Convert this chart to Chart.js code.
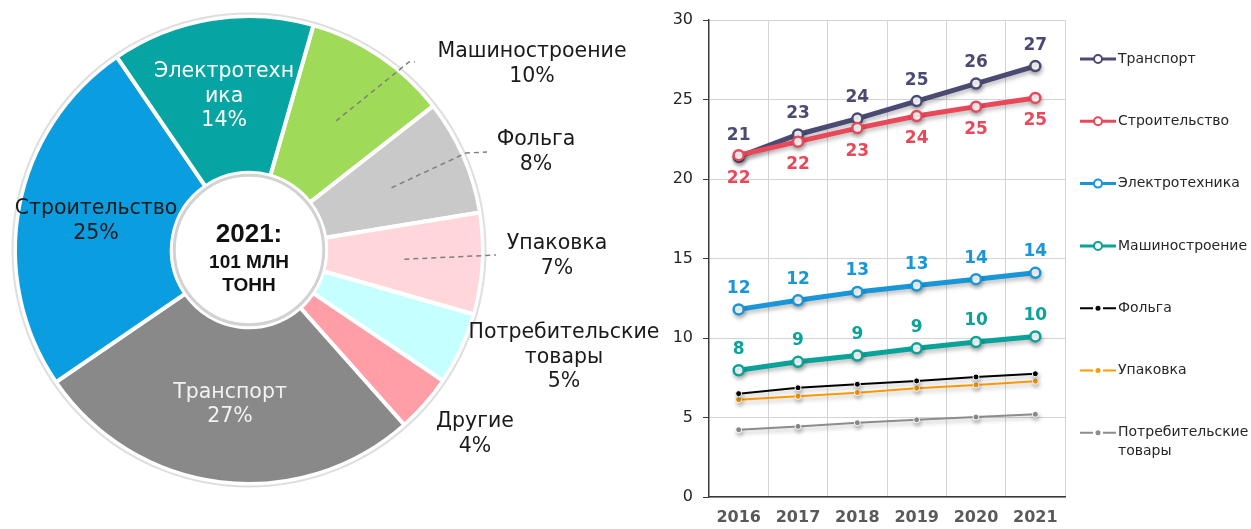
<!DOCTYPE html>
<html>
<head>
<meta charset="utf-8">
<script src="https://cdn.jsdelivr.net/npm/chart.js@4.4.1/dist/chart.umd.min.js"></script>
<style>
  body { margin: 0; background: #fff; width: 1251px; height: 529px; overflow: hidden; position: relative; }
  #pieBox { position: absolute; left: 0; top: 0; width: 660px; height: 529px; }
  #lineBox { position: absolute; left: 660px; top: 0; width: 591px; height: 529px; }
</style>
</head>
<body>
<div id="pieBox"><canvas id="pie" width="660" height="529"></canvas></div>
<div id="lineBox"><canvas id="line" width="591" height="529"></canvas></div>
<script>
// структура 2021
const sectors = ['Машиностроение', 'Фольга', 'Упаковка', 'Потребительские товары', 'Другие', 'Транспорт', 'Строительство', 'Электротехника'];
const shares = [10, 8, 7, 5, 4, 27, 25, 14];
const sectorColors = ['#9fdb58', '#c9c9c9', '#ffd7da', '#c6ffff', '#ff9ea7', '#898989', '#0a9ddf', '#06a4a2'];
const totalText = ['2021:', '101 МЛН', 'ТОНН'];

// динамика 2016-2021
const years = ['2016', '2017', '2018', '2019', '2020', '2021'];
const transport = [21.4, 22.8, 23.8, 24.9, 26.0, 27.1];
const construction = [21.5, 22.35, 23.2, 23.96, 24.55, 25.1];
const electro = [11.8, 12.37, 12.9, 13.3, 13.7, 14.1];
const machinery = [7.97, 8.5, 8.9, 9.35, 9.75, 10.1];
const foil = [6.5, 6.87, 7.09, 7.3, 7.55, 7.75];
const packaging = [6.12, 6.33, 6.56, 6.84, 7.04, 7.28];
const consumer = [4.23, 4.44, 4.67, 4.86, 5.03, 5.2];

const labelFont = '"DejaVu Sans", sans-serif';

// подписи секторов: внутри или снаружи (смещение от центра)
const pieLabels = [
  { lines: ['Машиностроение'], out: [283, -198], lead: [[160, -188], [166, -188]] },
  { lines: ['Фольга'], out: [287, -110], lead: [[217, -97], [238, -98]] },
  { lines: ['Упаковка'], out: [308, -6], lead: [[247, 5]] },
  { lines: ['Потребительские', 'товары'], out: [315, 83] },
  { lines: ['Другие'], out: [226, 172] },
  { lines: ['Транспорт'], color: '#f2f2f2' },
  { lines: ['Строительство'], color: '#1a1a1a' },
  { lines: ['Электротехн', 'ика'], color: '#ffffff' }
];

const pieDecor = {
  id: 'pieDecor',
  afterDatasetsDraw(chart) {
    const ctx = chart.ctx;
    const arcs = chart.getDatasetMeta(0).data;
    const cx = arcs[0].x, cy = arcs[0].y;
    const R = arcs[0].outerRadius, r = arcs[0].innerRadius;

    ctx.save();
    // мягкие ободки
    ctx.strokeStyle = '#dedede';
    ctx.lineWidth = 2;
    ctx.beginPath(); ctx.arc(cx, cy, R + 2.5, 0, Math.PI * 2); ctx.stroke();
    ctx.strokeStyle = '#d2d2d2';
    ctx.lineWidth = 3;
    ctx.beginPath(); ctx.arc(cx, cy, r - 2.5, 0, Math.PI * 2); ctx.stroke();

    ctx.font = '20.5px ' + labelFont;
    ctx.textAlign = 'center';
    ctx.textBaseline = 'middle';
    const lh = 24.5;

    arcs.forEach((arc, i) => {
      const spec = pieLabels[i];
      const lines = spec.lines.concat([shares[i] + '%']);
      const mid = (arc.startAngle + arc.endAngle) / 2;
      const mr = (arc.innerRadius + arc.outerRadius) / 2;
      const mx = cx + Math.cos(mid) * mr, my = cy + Math.sin(mid) * mr;
      if (spec.out) {
        if (spec.lead) {
          ctx.save();
          ctx.strokeStyle = '#7f7f7f';
          ctx.lineWidth = 1.5;
          ctx.setLineDash([5, 4]);
          ctx.beginPath();
          ctx.moveTo(mx, my);
          spec.lead.forEach(p => ctx.lineTo(cx + p[0], cy + p[1]));
          ctx.stroke();
          ctx.restore();
        }
        ctx.fillStyle = '#1a1a1a';
        lines.forEach((t, k) => ctx.fillText(t, cx + spec.out[0], cy + spec.out[1] + k * lh));
      } else {
        ctx.fillStyle = spec.color;
        const y0 = my - (lines.length - 1) * lh / 2;
        lines.forEach((t, k) => ctx.fillText(t, mx, y0 + k * lh));
      }
    });

    // центр
    ctx.fillStyle = '#111';
    ctx.font = 'bold 26px "Liberation Sans", Arial, sans-serif';
    ctx.fillText(totalText[0], cx, cy - 15);
    ctx.font = 'bold 19px "Liberation Sans", Arial, sans-serif';
    ctx.fillText(totalText[1], cx, cy + 13);
    ctx.fillText(totalText[2], cx, cy + 36);
    ctx.restore();
  }
};

new Chart(document.getElementById('pie'), {
  type: 'doughnut',
  data: {
    labels: sectors,
    datasets: [{
      data: shares,
      backgroundColor: sectorColors,
      borderColor: '#ffffff',
      borderWidth: 4
    }]
  },
  options: {
    responsive: false,
    animation: false,
    rotation: 16,
    cutout: '33%',
    layout: { padding: { left: 13, top: 14, right: 175, bottom: 43 } },
    plugins: { legend: { display: false }, tooltip: { enabled: false } }
  },
  plugins: [pieDecor]
});

// ---------- линии ----------
const bigLine = (label, data, color, side, order) => ({
  label, data, order,
  borderColor: color, backgroundColor: color,
  borderWidth: 5, pointRadius: 5, pointBorderWidth: 2.5,
  pointBackgroundColor: '#ffffff', pointBorderColor: color,
  showValues: true, labelSide: side, big: true
});
const smallLine = (label, data, color) => ({
  label, data, order: 0,
  borderColor: color, backgroundColor: color,
  borderWidth: 2, pointRadius: 3, pointBorderWidth: 1,
  pointBackgroundColor: color, pointBorderColor: '#ffffff',
  showValues: false, big: false
});

const lineShadow = {
  id: 'lineShadow',
  beforeDatasetDraw(chart) {
    const ctx = chart.ctx;
    ctx.save();
    ctx.shadowColor = 'rgba(0,0,0,0.25)';
    ctx.shadowBlur = 4;
    ctx.shadowOffsetX = 1;
    ctx.shadowOffsetY = 3;
  },
  afterDatasetDraw(chart) {
    chart.ctx.restore();
  }
};

const valueLabels = {
  id: 'valueLabels',
  afterDatasetsDraw(chart) {
    const ctx = chart.ctx;
    ctx.save();
    ctx.font = 'bold 17px "DejaVu Sans", sans-serif';
    ctx.textAlign = 'center';
    ctx.textBaseline = 'middle';
    chart.data.datasets.forEach((ds, i) => {
      if (!ds.showValues) return;
      ctx.fillStyle = ds.borderColor;
      chart.getDatasetMeta(i).data.forEach((pt, k) => {
        const off = ds.labelSide < 0 ? -21 : 23;
        ctx.fillText(String(Math.round(ds.data[k])), pt.x, pt.y + off);
      });
    });
    ctx.restore();
  }
};

const sideLegend = {
  id: 'sideLegend',
  afterDraw(chart) {
    const ctx = chart.ctx;
    const a = chart.chartArea;
    const x0 = a.right + 15, x1 = a.right + 51;
    ctx.save();
    ctx.font = '14px "DejaVu Sans", sans-serif';
    ctx.textBaseline = 'middle';
    ctx.textAlign = 'left';
    chart.data.datasets.forEach((ds, i) => {
      const y = a.top + 39 + i * 62.3;
      const xm = (x0 + x1) / 2;
      ctx.strokeStyle = ds.borderColor;
      if (ds.big) {
        ctx.lineWidth = 3;
        ctx.beginPath(); ctx.moveTo(x0, y); ctx.lineTo(x1, y); ctx.stroke();
        ctx.fillStyle = '#fff';
        ctx.lineWidth = 2;
        ctx.beginPath(); ctx.arc(xm, y, 4, 0, Math.PI * 2); ctx.fill(); ctx.stroke();
      } else {
        ctx.lineWidth = 2;
        ctx.beginPath(); ctx.moveTo(x0, y); ctx.lineTo(xm - 5, y); ctx.moveTo(xm + 5, y); ctx.lineTo(x1, y); ctx.stroke();
        ctx.fillStyle = ds.borderColor;
        ctx.beginPath(); ctx.arc(xm, y, 2.5, 0, Math.PI * 2); ctx.fill();
      }
      ctx.fillStyle = '#262626';
      const words = ds.label.split(' ');
      words.forEach((w, k) => ctx.fillText(w, x1 + 2, y + k * 19));
    });
    ctx.restore();
  }
};

new Chart(document.getElementById('line'), {
  type: 'line',
  data: {
    labels: years,
    datasets: [
      bigLine('Транспорт', transport, '#4a4a73', -1, 1),
      bigLine('Строительство', construction, '#e8485a', 1, 0),
      bigLine('Электротехника', electro, '#1996d7', -1, 0),
      bigLine('Машиностроение', machinery, '#0aa299', -1, 0),
      smallLine('Фольга', foil, '#000000'),
      smallLine('Упаковка', packaging, '#ff9900'),
      smallLine('Потребительские товары', consumer, '#8c8c8c')
    ]
  },
  options: {
    responsive: false,
    animation: false,
    layout: { padding: { left: 0, right: 186, top: 20, bottom: 0 } },
    plugins: { legend: { display: false }, tooltip: { enabled: false } },
    scales: {
      x: {
        offset: true,
        grid: { offset: true, color: '#d4d4d4', drawTicks: false },
        border: { color: '#3a3a3a', width: 1.5 },
        ticks: { color: '#595959', padding: 11, font: { family: '"DejaVu Sans"', size: 16, weight: 'bold' } },
        afterFit: s => { s.height = 32; }
      },
      y: {
        min: 0, max: 30,
        ticks: { stepSize: 5, color: '#262626', padding: 10, font: { family: '"DejaVu Sans"', size: 16 } },
        grid: { color: '#d4d4d4', tickColor: '#3a3a3a', tickLength: 6 },
        border: { color: '#3a3a3a', width: 1.5 },
        afterFit: s => { s.width = 49; }
      }
    }
  },
  plugins: [lineShadow, valueLabels, sideLegend]
});
</script>
</body>
</html>
